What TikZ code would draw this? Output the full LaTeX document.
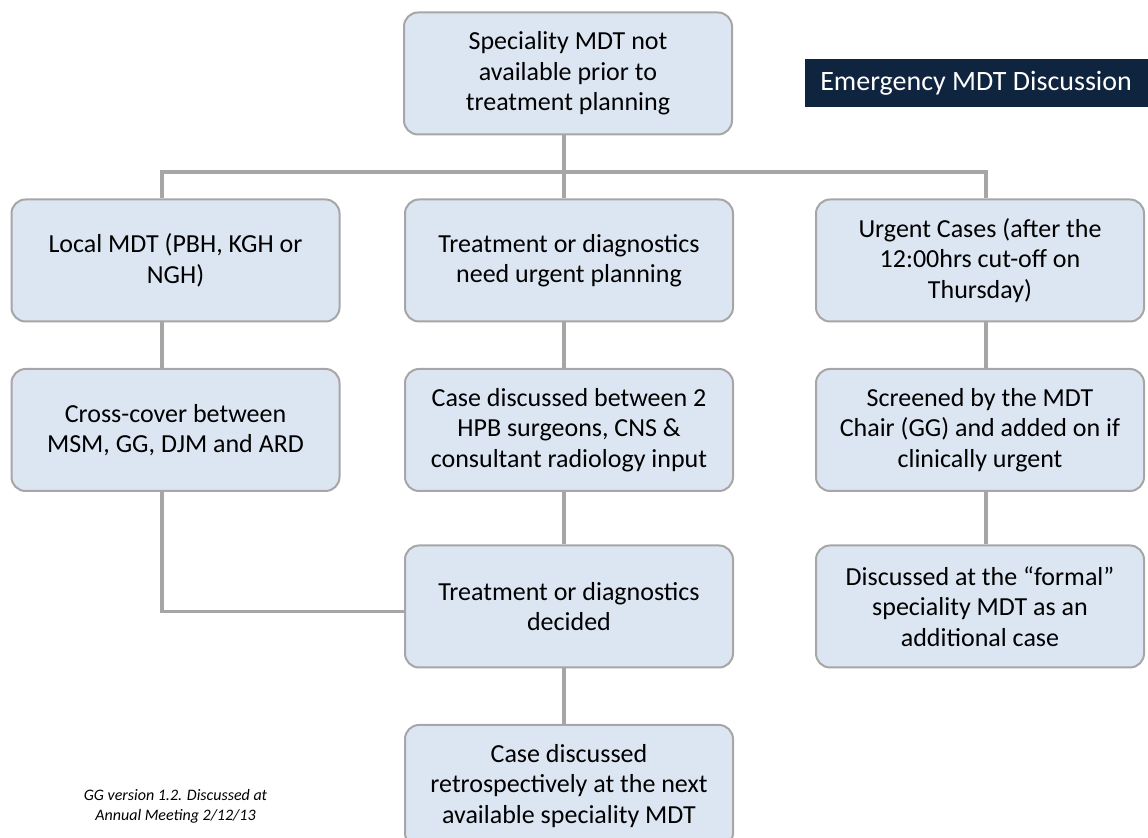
\documentclass[tikz,border=0pt]{standalone}
\usepackage{fontspec}
\setmainfont{Carlito}
\definecolor{boxfill}{HTML}{DCE6F2}
\definecolor{boxline}{HTML}{A6A6A6}
\definecolor{navy}{HTML}{0F243E}
\begin{document}
\begin{tikzpicture}[x=0.5pt,y=-0.5pt,box/.style={draw=boxline,line width=1pt,fill=boxfill,rounded corners=7pt,minimum width=164pt,minimum height=61pt,inner sep=0pt,align=center,font=\fontsize{13}{15.25}\selectfont},link/.style={draw=boxline,line width=1.6pt},banner/.style={fill=navy,text=white,minimum width=171.5pt,minimum height=24pt,inner sep=0pt,font=\fontsize{14}{16}\selectfont}]
    \useasboundingbox (0,0) rectangle (1148,838);
    \node[box] (top) at (568,73.5) {Speciality MDT not\\available prior to\\treatment planning};
    \node[banner,anchor=east] (title) at (1148,83) {Emergency MDT Discussion};
    \node[box] (local) at (175.5,260.5) {Local MDT (PBH, KGH or\\NGH)};
    \node[box] (urgplan) at (569,260.5) {Treatment or diagnostics\\need urgent planning};
    \node[box] (urgent) at (980,260.5) {Urgent Cases (after the\\12:00hrs cut-off on\\Thursday)};
    \node[box] (cross) at (175.5,430) {Cross-cover between\\MSM, GG, DJM and ARD};
    \node[box] (discuss) at (569,430) {Case discussed between 2\\HPB surgeons, CNS \&\\consultant radiology input};
    \node[box] (screened) at (980,430) {Screened by the MDT\\Chair (GG) and added on if\\clinically urgent};
    \node[box] (decided) at (569,606.5) {Treatment or diagnostics\\decided};
    \node[box] (formal) at (980,606.5) {Discussed at the “formal”\\speciality MDT as an\\additional case};
    \node[box] (retro) at (569,786) {Case discussed\\retrospectively at the next\\available speciality MDT};
    \node[align=center,font=\itshape\fontsize{8}{10}\selectfont] (note) at (175.5,806) {GG version 1.2. Discussed at\\Annual Meeting 2/12/13};
    \coordinate (barL) at (162,172);
    \coordinate (barM) at (564,172);
    \coordinate (barR) at (986,172);
    \draw[link] (top.south -| barM) -- (barM);
    \draw[link] (local.north -| barL) |- (barR) -- (urgent.north -| barR);
    \draw[link] (barM) -- (urgplan.north -| barM);
    \draw[link] (local.south -| barL) -- (cross.north -| barL);
    \draw[link] (cross.south -| barL) |- ([yshift=-2.5pt]decided.west);
    \draw[link] (urgplan.south -| barM) -- (discuss.north -| barM);
    \draw[link] (discuss.south -| barM) -- (decided.north -| barM);
    \draw[link] (decided.south -| barM) -- (retro.north -| barM);
    \draw[link] (urgent.south -| barR) -- (screened.north -| barR);
    \draw[link] (screened.south -| barR) -- (formal.north -| barR);
\end{tikzpicture}
\end{document}
